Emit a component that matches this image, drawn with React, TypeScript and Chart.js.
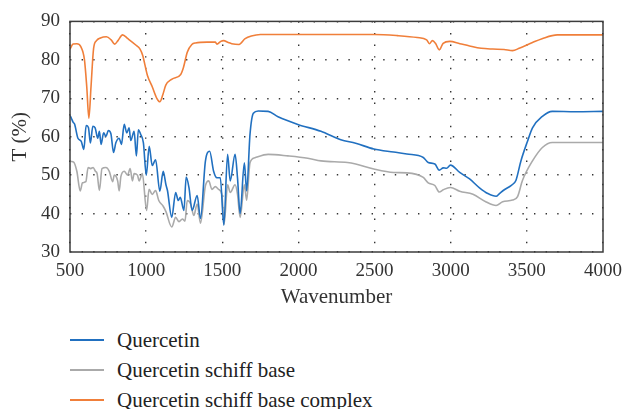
import React, { useEffect, useRef } from "react";
import { Chart, registerables } from "chart.js";

Chart.register(...registerables);

const quercetinX = [500, 509, 520, 530, 552, 574, 591, 606, 621, 634, 650, 665, 682, 693, 704, 721, 736, 752, 769, 786, 801, 823, 838, 856, 873, 888, 899, 921, 936, 949, 964, 982, 1001, 1020, 1040, 1062, 1090, 1112, 1130, 1140, 1168, 1194, 1211, 1224, 1248, 1263, 1281, 1302, 1335, 1357, 1389, 1417, 1443, 1465, 1487, 1510, 1535, 1552, 1584, 1600, 1617, 1645, 1660, 1682, 1704, 1736, 1801, 1866, 1996, 2148, 2278, 2376, 2495, 2625, 2712, 2820, 2852, 2896, 2925, 2951, 2973, 2998, 3059, 3124, 3189, 3244, 3298, 3320, 3352, 3396, 3428, 3461, 3505, 3537, 3602, 3667, 3818, 4000];
const quercetinT = [65.5, 64.8, 63.8, 63.3, 59.6, 58.8, 56.7, 62.9, 62.4, 58.4, 62.7, 62.3, 59.6, 61.4, 58, 61, 60.1, 61.6, 60.7, 55.9, 58.4, 59.6, 58, 63.2, 61, 62.3, 59, 61.4, 55, 61.8, 60.6, 58.4, 50, 57.5, 52.5, 54, 45.8, 51, 47.5, 46, 39, 45.5, 43.4, 44.2, 40.8, 49.5, 46.8, 40.8, 44.7, 38.7, 53.6, 56.2, 51, 49.3, 49.3, 37, 55.4, 48.5, 55.4, 49.3, 40, 53.2, 45.9, 60.6, 66.1, 66.7, 66.6, 65.2, 63.2, 61.4, 59.2, 58.3, 56.8, 56, 55.5, 54.6, 53.3, 52.9, 51.3, 51.9, 51.8, 52.6, 50.7, 49, 46.7, 45.2, 44.5, 45.2, 46.2, 47.3, 48.6, 53.7, 58.9, 62.3, 65.3, 66.6, 66.5, 66.6];

const schiffX = [500, 504, 524, 545, 567, 582, 604, 619, 636, 652, 667, 678, 693, 710, 736, 758, 780, 791, 813, 823, 834, 856, 878, 895, 910, 921, 943, 954, 975, 1003, 1019, 1040, 1062, 1083, 1112, 1130, 1168, 1194, 1216, 1238, 1255, 1270, 1292, 1313, 1335, 1357, 1389, 1411, 1432, 1454, 1476, 1497, 1512, 1535, 1552, 1584, 1600, 1617, 1645, 1660, 1682, 1714, 1801, 1931, 2061, 2148, 2322, 2376, 2495, 2625, 2712, 2820, 2852, 2896, 2925, 2951, 2998, 3059, 3146, 3233, 3298, 3341, 3406, 3439, 3471, 3537, 3602, 3667, 3993, 4000];
const schiffT = [53.8, 53.6, 53.4, 51, 45.9, 48, 48.3, 52, 51.7, 52, 51, 50.4, 46, 51.7, 52, 51, 48.3, 50, 48.5, 45.9, 49.6, 51, 50, 51.7, 48.5, 50.4, 50, 48.5, 50.4, 40.8, 46.3, 45, 46, 43.4, 41.9, 40.5, 36.5, 39, 37.9, 38.6, 38, 43.4, 42.5, 39.5, 42.5, 37.5, 47.2, 48.5, 46.3, 47, 46.3, 45, 37.2, 47.5, 45.5, 47.5, 45, 39, 47.5, 43.5, 53.2, 54.5, 55.4, 55, 54.4, 53.7, 53.3, 52.9, 51.6, 50.7, 50.6, 49.4, 48, 47.3, 45.6, 46.2, 46.8, 45.8, 45, 43, 42.1, 43.1, 43.5, 44.4, 48.6, 53.7, 57.2, 58.5, 58.5, 58.5];

const complexX = [500, 520, 545, 570, 595, 610, 624, 638, 655, 674, 700, 739, 770, 793, 815, 845, 880, 934, 960, 977, 1008, 1040, 1070, 1090, 1110, 1129, 1170, 1227, 1245, 1270, 1300, 1324, 1400, 1454, 1465, 1490, 1508, 1540, 1562, 1610, 1650, 1691, 1750, 2000, 2500, 2650, 2780, 2842, 2860, 2880, 2900, 2925, 2950, 2994, 3060, 3124, 3200, 3276, 3350, 3406, 3450, 3537, 3600, 3700, 4000];
const complexT = [82.8, 84.1, 84.2, 83.5, 80, 73, 64.8, 73, 83, 85, 85.7, 86, 85.2, 84.1, 85, 86.5, 85.5, 83.8, 82.8, 81.2, 76, 73, 70, 69.1, 71, 73.4, 75, 76.2, 78, 82, 84, 84.4, 84.6, 84.6, 84.1, 84.8, 85, 84.5, 84.2, 84, 85.5, 86.2, 86.6, 86.6, 86.6, 86.3, 85.8, 85.2, 84.2, 85, 84.3, 82.6, 84.3, 84.8, 84.2, 83.6, 83, 82.8, 82.7, 82.4, 83, 84.5, 85.5, 86.5, 86.5];

const seriesNames = ["Quercetin", "Quercetin schiff base", "Quercetin schiff base complex"];
const seriesColors = ["#2170c0", "#aaaaaa", "#f07f3a"];

const xTicks = [500, 1000, 1500, 2000, 2500, 3000, 3500, 4000];
const yTicks = [30, 40, 50, 60, 70, 80, 90];

const FONT = "'Liberation Serif', 'Times New Roman', serif";

const toPoints = (xs: number[], ys: number[]) => xs.map((x, i) => ({ x, y: ys[i] }));

const framePlugin = {
  id: "frame",
  afterDraw(chart: any) {
    const { ctx, chartArea } = chart;
    ctx.save();
    ctx.strokeStyle = "#3c3c3c";
    ctx.lineWidth = 1.5;
    ctx.strokeRect(chartArea.left, chartArea.top, chartArea.right - chartArea.left, chartArea.bottom - chartArea.top);
    ctx.restore();
  },
};

export default function App() {
  const ref = useRef<HTMLCanvasElement | null>(null);

  useEffect(() => {
    if (!ref.current) return;
    const datas = [toPoints(quercetinX, quercetinT), toPoints(schiffX, schiffT), toPoints(complexX, complexT)];
    const chart = new Chart(ref.current, {
      type: "line",
      data: {
        datasets: datas.map((d, i) => ({
          label: seriesNames[i],
          data: d,
          borderColor: seriesColors[i],
          backgroundColor: seriesColors[i],
          borderWidth: 1.6,
          pointRadius: 0,
          cubicInterpolationMode: "monotone" as const,
          fill: false,
        })),
      },
      options: {
        responsive: false,
        animation: false,
        devicePixelRatio: 1,
        layout: { padding: { top: 19, right: 22, bottom: 0, left: 0 } },
        plugins: { legend: { display: false }, tooltip: { enabled: false } },
        scales: {
          x: {
            type: "linear",
            min: 500,
            max: 4000,
            afterBuildTicks: (s: any) => {
              s.ticks = xTicks.map((v) => ({ value: v }));
            },
            afterFit: (s: any) => {
              s.height = 58;
            },
            ticks: { font: { family: FONT, size: 19 }, color: "#333", padding: 8, maxRotation: 0, callback: (v: any) => String(v) },
            grid: { color: "#333", lineWidth: 1.4, drawTicks: false },
            border: { display: false, dash: [1.4, 10.2] },
            title: { display: true, text: "Wavenumber", font: { family: FONT, size: 21 }, color: "#333", padding: { top: 0, bottom: 0 } },
          },
          y: {
            type: "linear",
            min: 30,
            max: 90,
            afterBuildTicks: (s: any) => {
              s.ticks = yTicks.map((v) => ({ value: v }));
            },
            afterFit: (s: any) => {
              s.width = 70;
            },
            ticks: { font: { family: FONT, size: 19 }, color: "#333", padding: 10, callback: (v: any) => String(v) },
            grid: { color: "#333", lineWidth: 1.4, drawTicks: false },
            border: { display: false, dash: [1.4, 10.2] },
            title: { display: true, text: "T (%)", font: { family: FONT, size: 21 }, color: "#333", padding: { top: 8, bottom: 0 } },
          },
        },
      },
      plugins: [framePlugin],
    });
    return () => chart.destroy();
  }, []);

  const legendTops = [328, 358, 388];

  return (
    <div style={{ position: "absolute", left: 0, top: 0, width: 630, height: 409, background: "#fff" }}>
      <canvas ref={ref} width={630} height={310} style={{ display: "block", width: 630, height: 310 }} />
      {seriesNames.map((name, i) => (
        <div
          key={name}
          style={{ position: "absolute", left: 70, top: legendTops[i], height: 24, display: "flex", alignItems: "center", whiteSpace: "nowrap" }}
        >
          <div style={{ width: 34, height: 2, background: seriesColors[i] }} />
          <span style={{ marginLeft: 13, fontFamily: FONT, fontSize: 21, color: "#222", lineHeight: "24px" }}>{name}</span>
        </div>
      ))}
    </div>
  );
}
